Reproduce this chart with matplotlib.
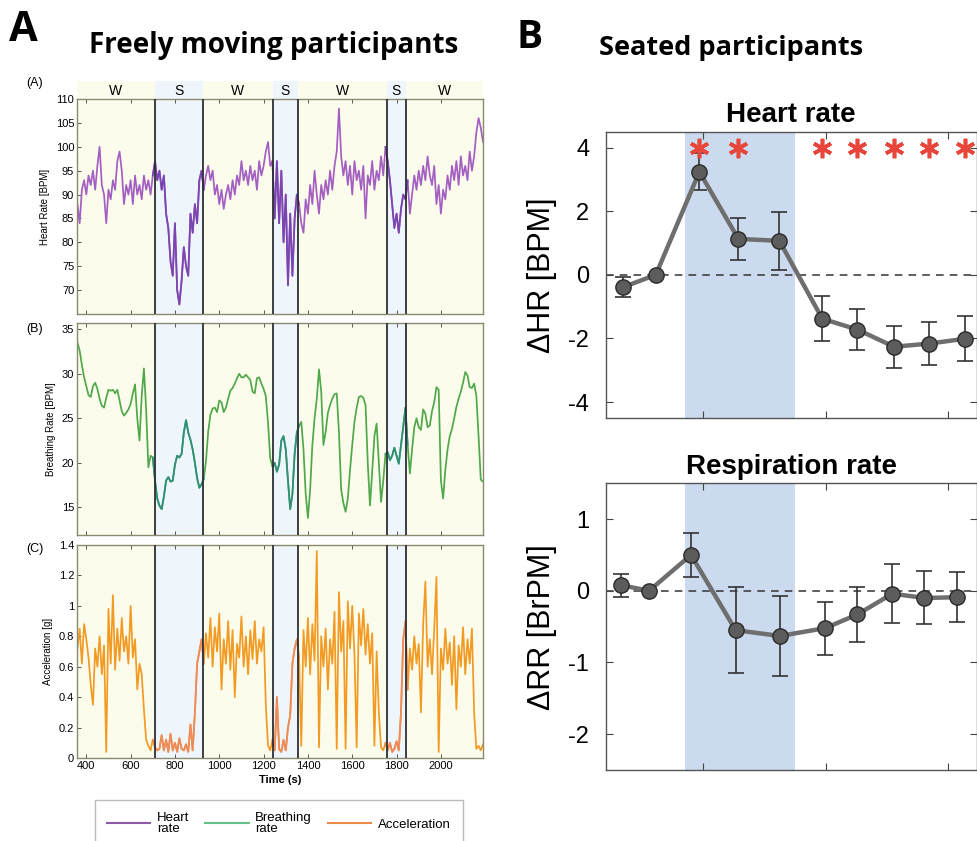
import matplotlib
matplotlib.use("Agg")
import matplotlib.pyplot as plt
import numpy as np
from matplotlib.lines import Line2D

plt.rcParams["font.family"] = ["Liberation Sans", "DejaVu Sans"]
plt.rcParams["axes.unicode_minus"] = False

# ---------------- A: one freely moving participant, 10 s samples ----------------
T0, DT = 360, 10
XLIM = (358, 2190)
SLEEP = [(708, 925), (1241, 1354), (1755, 1842)]
STAGES = ["W", "S", "W", "S", "W", "S", "W"]

heart_rate = [
    88, 84, 91, 93, 90, 94, 92, 95, 91, 96, 100, 92, 90, 84, 91, 89, 93, 91, 97, 99,
    95, 88, 92, 90, 93, 88, 94, 90, 92, 89, 94, 91, 93, 90, 94,
    97, 93, 95, 91, 94, 86, 83, 76, 73, 84, 70, 67, 72, 79, 75, 73, 86, 82, 88, 84, 93, 95,
    91, 94, 96, 93, 95, 90, 92, 88, 91, 87, 90, 92, 89, 93, 90, 94, 92, 97, 93, 95,
    92, 96, 93, 95, 91, 97, 94, 96, 99, 101, 96, 97,
    85, 97, 84, 95, 80, 90, 71, 86, 73, 85, 90,
    88, 84, 82, 89, 86, 92, 88, 95, 90, 86, 92, 89, 93, 90, 95, 91, 96, 99, 108, 98,
    94, 97, 92, 96, 90, 97, 93, 95, 91, 96, 85, 94, 92, 97, 91, 95, 93, 98, 94, 100,
    97, 93, 88, 83, 86, 82, 87, 90, 89,
    93, 86, 90, 94, 91, 95, 92, 96, 93, 98, 94, 92, 96, 88, 92, 86, 91, 89, 94, 91,
    96, 93, 97, 92, 98, 94, 96, 93, 99, 95, 98, 103, 106, 104, 101,
]

breathing_rate = [
    33.5, 32.6, 31.0, 29.6, 28.6, 27.6, 27.4, 28.6, 29.0, 28.3, 27.2, 26.4, 26.2, 27.3,
    28.2, 28.1, 28.2, 27.8, 28.2, 27.0, 25.8, 25.3, 25.6, 26.0, 26.6, 27.8, 28.8, 25.0,
    22.5, 27.5, 30.6, 26.0, 19.5, 20.8, 20.6,
    18.0, 16.0, 15.2, 14.8, 16.2, 18.0, 18.4, 17.9, 18.0, 19.8, 20.8, 20.6, 21.0, 23.4,
    24.8, 23.4, 22.6, 21.5, 20.0, 18.3, 17.2, 17.6,
    18.2, 20.2, 23.5, 25.4, 26.1, 26.2, 25.7, 27.0, 26.8, 25.7, 26.2, 27.2, 28.1, 28.4,
    28.9, 29.5, 30.0, 29.6, 29.6, 29.9, 29.6, 29.3, 28.0, 27.8, 29.5, 29.6, 28.9, 28.3,
    27.5, 24.5, 20.5, 19.6,
    20.0, 19.0, 19.8, 22.5, 23.0, 21.5, 18.0, 14.8, 16.5, 21.0, 23.4,
    24.2, 24.6, 21.5, 16.5, 13.8, 17.0, 22.0, 25.0, 27.2, 30.5, 28.0, 22.0, 23.5, 25.6,
    26.5, 27.2, 27.7, 27.8, 23.5, 17.0, 15.5, 14.5, 16.0, 19.2, 22.0, 24.6, 26.2, 27.4,
    27.5, 27.3, 26.5, 20.0, 15.2, 19.0, 23.0, 24.4, 20.0, 15.6, 18.0, 21.0,
    21.2, 20.3, 20.8, 21.7, 20.8, 19.9, 22.0, 24.0, 26.2,
    22.0, 18.8, 21.5, 24.0, 25.0, 24.0, 23.7, 26.0, 25.5, 24.0, 24.2, 25.8, 26.8, 28.5,
    28.2, 18.0, 16.0, 19.2, 21.5, 23.0, 23.8, 25.0, 26.3, 27.2, 28.0, 29.0, 30.2, 29.8,
    28.5, 28.4, 28.9, 27.5, 23.0, 18.1, 17.9,
]

acceleration = [
    0.72, 0.85, 0.62, 0.88, 0.78, 0.66, 0.48, 0.35, 0.72, 0.60, 0.80, 0.55, 0.74, 0.04,
    0.98, 0.62, 1.07, 0.58, 0.85, 0.64, 0.92, 0.70, 0.80, 0.62, 1.00, 0.66, 0.78, 0.45,
    0.62, 0.55, 0.32, 0.12, 0.08, 0.05, 0.12,
    0.07, 0.05, 0.06, 0.15, 0.05, 0.12, 0.04, 0.16, 0.05, 0.10, 0.04, 0.13, 0.06, 0.05,
    0.09, 0.04, 0.22, 0.05, 0.30, 0.62, 0.70, 0.78,
    0.62, 0.82, 0.66, 0.92, 0.60, 0.86, 0.70, 0.95, 0.45, 0.78, 0.62, 0.90, 0.58, 0.84,
    0.40, 0.75, 0.66, 0.93, 0.60, 0.80, 0.55, 0.84, 0.65, 0.90, 0.62, 0.78, 0.70, 0.86,
    0.35, 0.08, 0.05, 0.12,
    0.05, 0.40, 0.06, 0.04, 0.12, 0.05, 0.20, 0.28, 0.62, 0.72, 0.78,
    0.66, 0.08, 0.84, 0.60, 0.92, 0.55, 0.88, 0.64, 1.36, 0.07, 0.80, 0.60, 0.85, 0.45,
    0.78, 0.62, 0.96, 0.06, 1.09, 0.70, 0.90, 0.06, 1.03, 0.72, 1.00, 0.68, 0.07, 0.95,
    0.74, 0.98, 0.68, 0.88, 0.62, 0.82, 0.08, 0.70, 0.30, 0.07, 0.05, 0.10,
    0.05, 0.10, 0.04, 0.06, 0.11, 0.05, 0.30, 0.78, 0.90,
    0.45, 0.72, 0.58, 0.80, 0.62, 0.75, 0.30, 0.88, 1.16, 0.60, 0.78, 0.55, 0.85, 1.19,
    0.04, 0.72, 0.58, 0.85, 0.62, 0.76, 0.48, 0.80, 0.32, 0.74, 0.60, 0.86, 0.55, 0.78,
    0.62, 0.85, 0.30, 0.06, 0.08, 0.05, 0.09,
]

# ---------------- B: seated participants, mean change +/- error ----------------
hr_time = [-0.654, -0.385, -0.030, 0.288, 0.622, 0.972, 1.258, 1.557, 1.844, 2.135]
hr_delta = [-0.39, 0.0, 3.24, 1.13, 1.07, -1.38, -1.72, -2.26, -2.16, -2.01]
hr_err = [0.31, 0.0, 0.58, 0.65, 0.92, 0.70, 0.65, 0.66, 0.67, 0.71]
hr_sig = [0, 0, 1, 1, 0, 1, 1, 1, 1, 1]

rr_time = [-0.671, -0.440, -0.098, 0.266, 0.628, 0.997, 1.258, 1.543, 1.804, 2.068]
rr_delta = [0.08, 0.0, 0.50, -0.55, -0.63, -0.52, -0.33, -0.04, -0.10, -0.09]
rr_err = [0.16, 0.0, 0.31, 0.60, 0.56, 0.37, 0.38, 0.41, 0.37, 0.35]

STIM = (-0.147, 0.75)

WAKE_BG, SLEEP_BG = "#fcfcec", "#eef5fb"
FRAME = "#8a8a70"
W, H = 977, 841


def box(x0, y0, x1, y1):
    """pixel box (top-left origin) -> figure fraction rect"""
    return [x0 / W, 1 - y1 / H, (x1 - x0) / W, (y1 - y0) / H]


def stage_edges():
    edges = [XLIM[0]]
    for a, b in SLEEP:
        edges += [a, b]
    return edges + [XLIM[1]]


def shade_stages(ax):
    edges = stage_edges()
    for k, lab in enumerate(STAGES):
        ax.axvspan(edges[k], edges[k + 1], color=SLEEP_BG if lab == "S" else WAKE_BG,
                   lw=0, zorder=0)


def trace(ax, series, wake_col, sleep_col, lw=1.25):
    y = np.asarray(series, dtype=float)
    t = T0 + DT * np.arange(len(y))
    ax.plot(t, y, color=wake_col, lw=lw, zorder=2)
    for a, b in SLEEP:
        m = (t >= a - DT) & (t <= b + DT)
        ax.plot(t[m], y[m], color=sleep_col, lw=lw, zorder=3)


def left_axes(rect, series, cols, ylim, yticks, ylabel, bottom=False):
    ax = fig.add_axes(rect)
    shade_stages(ax)
    trace(ax, series, *cols)
    for a, b in SLEEP:
        for x in (a, b):
            ax.axvline(x, color="#2c3036", lw=1.3, zorder=4)
    ax.set_xlim(*XLIM)
    ax.set_ylim(*ylim)
    ax.set_yticks(yticks)
    ax.yaxis.set_major_formatter(matplotlib.ticker.FormatStrFormatter("%g"))
    ax.set_xticks(range(400, 2001, 200))
    ax.tick_params(direction="in", length=3, width=0.7, labelsize=8, top=True,
                   color="#555555", labelbottom=bottom, pad=2)
    for s in ax.spines.values():
        s.set_color(FRAME)
        s.set_linewidth(1.0)
    ax.set_ylabel(ylabel, fontsize=7, labelpad=4)
    return ax


fig = plt.figure(figsize=(W / 100, H / 100), dpi=100)

# stage band above panel (A)
band = fig.add_axes(box(77, 81, 483, 99))
shade_stages(band)
edges = stage_edges()
for k, lab in enumerate(STAGES):
    band.text((edges[k] + edges[k + 1]) / 2, 0.45, lab, ha="center", va="center", fontsize=10)
band.set_xlim(*XLIM)
band.set_ylim(0, 1)
band.axis("off")

left_axes(box(77, 99, 483, 314), heart_rate, ("#a35fc2", "#7b45b0"),
          (65, 110), range(70, 111, 5), "Heart Rate [BPM]")
left_axes(box(77, 323, 483, 535), breathing_rate, ("#4fa84a", "#2f8f7a"),
          (11.9, 35.7), range(15, 36, 5), "Breathing Rate [BPM]")
ax_ac = left_axes(box(77, 545, 483, 758), acceleration, ("#f29a22", "#ee8a5c"),
                  (0, 1.4), np.arange(0, 1.41, 0.2), "Acceleration [g]", bottom=True)
ax_ac.set_xlabel("Time (s)", fontsize=8, fontweight="bold", labelpad=3)

for lab, ypix in (("(A)", 83), ("(B)", 329), ("(C)", 549)):
    fig.text(35 / W, 1 - ypix / H, lab, fontsize=9, ha="center", va="center")

handles = [Line2D([], [], color="#8e5aa8", lw=1.5),
           Line2D([], [], color="#66c08a", lw=1.5),
           Line2D([], [], color="#f08a4b", lw=1.5)]
leg = fig.legend(handles, ["Heart\nrate", "Breathing\nrate", "Acceleration"],
                 loc="upper left", bbox_to_anchor=(95 / W, 1 - 800 / H), ncol=3,
                 fontsize=9.5, handlelength=3.3, columnspacing=1.2, handletextpad=0.5,
                 borderaxespad=0, fancybox=False, edgecolor="#aaaaaa", borderpad=0.9)
for txt in leg.get_texts():
    txt.set_linespacing(0.85)


# ---------------- right column ----------------
def right_axes(rect, x, y, err, ylim, yticks, ylabel, title, sig=None):
    ax = fig.add_axes(rect)
    ax.axvspan(*STIM, color="#cbdaee", lw=0, zorder=0)
    ax.axhline(0, color="#333333", lw=1.1, dashes=(5, 4), zorder=1)
    ax.errorbar(x, y, yerr=err, fmt="none", ecolor="#333333", elinewidth=1.2,
                capsize=6, capthick=1.2, zorder=3)
    ax.plot(x, y, color="#6e6e6e", lw=3.2, zorder=4)
    ax.plot(x, y, "o", ms=11, mfc="#5c5c5c", mec="#2a2a2a", mew=1.0, zorder=5)
    if sig is not None:
        xs = [xi for xi, s in zip(x, sig) if s]
        ax.plot(xs, [4.0] * len(xs), ls="none", marker=(6, 2, 0), ms=14, mew=2.6,
                color="#e8463a", zorder=6, clip_on=False)
    ax.set_xlim(-0.791, 2.229)
    ax.set_ylim(*ylim)
    ax.set_xticks([0, 1, 2])
    ax.set_yticks(yticks)
    ax.tick_params(direction="in", length=5, width=0.8, top=True, right=True,
                   labelbottom=False, labelsize=17, color="#444444", pad=12)
    for s in ax.spines.values():
        s.set_color("#555555")
        s.set_linewidth(1.0)
    ax.set_ylabel(ylabel, fontsize=22, labelpad=8)
    ax.set_title(title, fontsize=20, fontweight="bold", pad=7)
    return ax


right_axes(box(606, 131.7, 976.5, 418), hr_time, hr_delta, hr_err, (-4.5, 4.5),
           [-4, -2, 0, 2, 4], "\u0394HR [BPM]", "Heart rate", sig=hr_sig)
right_axes(box(606, 483.3, 976.5, 770), rr_time, rr_delta, rr_err, (-2.5, 1.5),
           [-2, -1, 0, 1], "\u0394RR [BrPM]", "Respiration rate")

# headings
fig.text(9 / W, 1 - 10 / H, "A", fontsize=30, fontweight="bold", family="Open Sans", va="top")
fig.text(517 / W, 1 - 18 / H, "B", fontsize=28, fontweight="bold", family="Open Sans", va="top")
fig.text(274 / W, 1 - 46 / H, "Freely moving participants", fontsize=20, fontweight="bold",
         family="Open Sans", ha="center", va="center")
fig.text(731 / W, 1 - 48 / H, "Seated participants", fontsize=19.5, fontweight="bold",
         family="Open Sans", ha="center", va="center")

fig.savefig("out.png", dpi=100)
